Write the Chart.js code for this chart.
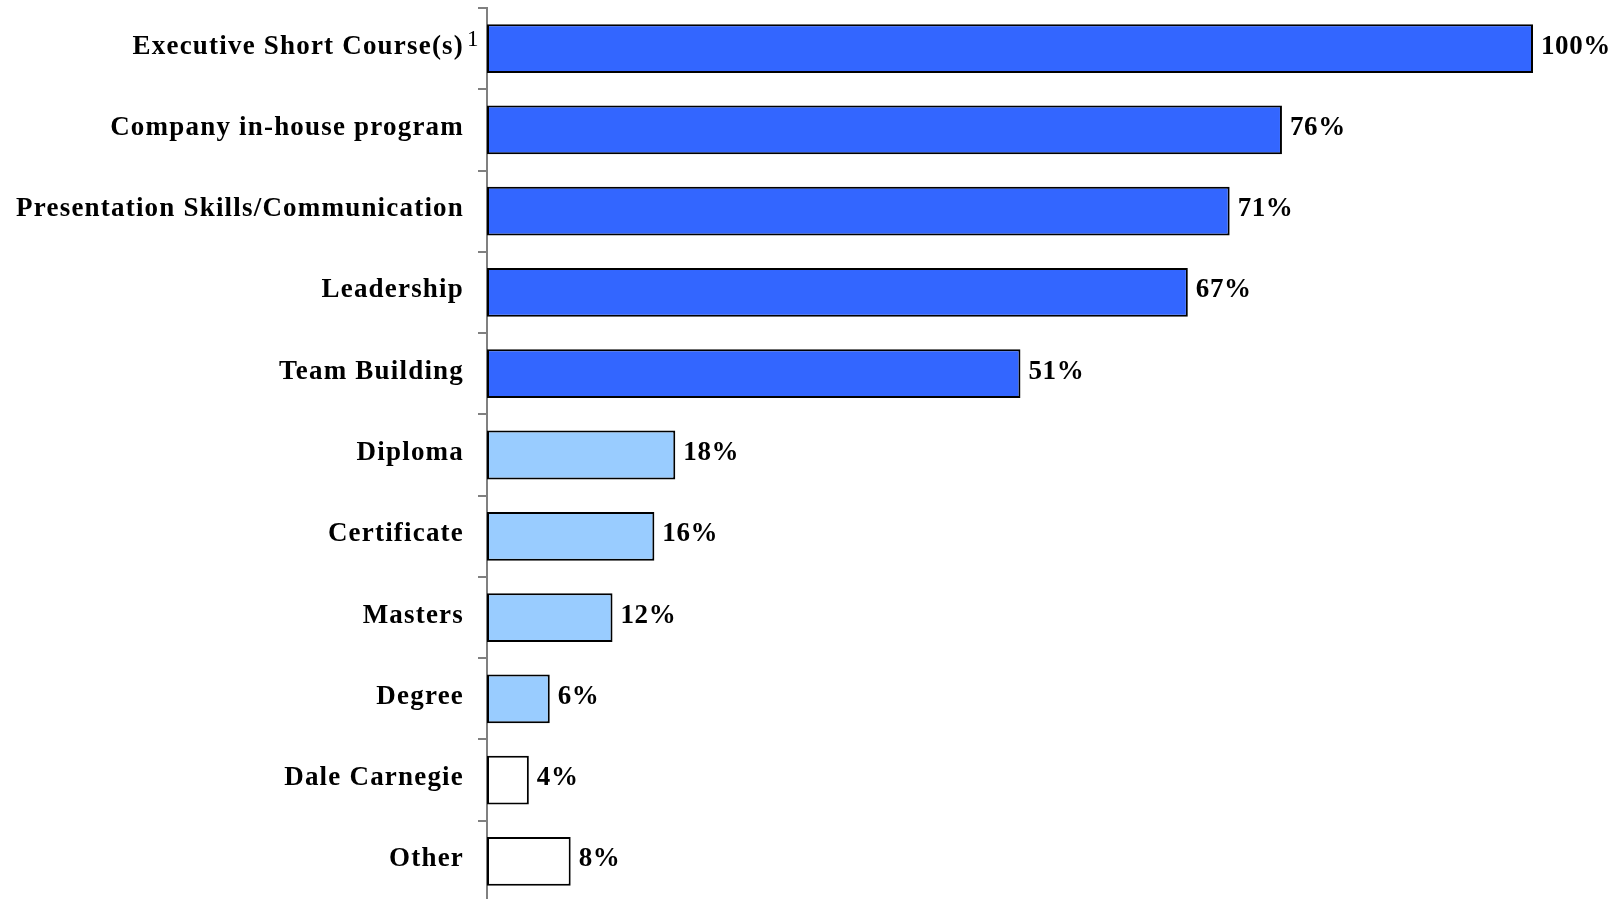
<!DOCTYPE html>
<html>
<head>
<meta charset="utf-8">
<title>Training programs attended</title>
<script src="https://cdn.jsdelivr.net/npm/chart.js@4.4.1/dist/chart.umd.min.js"></script>
<style>
  html, body { margin: 0; padding: 0; background: #ffffff; overflow: hidden; }
  #wrap { position: relative; width: 1615px; height: 902px; }
</style>
</head>
<body>
<div id="wrap"><canvas id="chart"></canvas></div>
<script>
// Program types and share of respondents (%)
const categories = [
  'Executive Short Course(s)',
  'Company in-house program',
  'Presentation Skills/Communication',
  'Leadership',
  'Team Building',
  'Diploma',
  'Certificate',
  'Masters',
  'Degree',
  'Dale Carnegie',
  'Other'
];
const shares = [100, 76, 71, 67, 51, 18, 16, 12, 6, 4, 8];
const footnoteMarks = ['1', '', '', '', '', '', '', '', '', '', ''];
const valueLabels = shares.map(v => v + '%');

// Styling
const DARK = '#3366FF', LIGHT = '#99CCFF', OPEN = '#FFFFFF';
const barFills = [DARK, DARK, DARK, DARK, DARK, LIGHT, LIGHT, LIGHT, LIGHT, OPEN, OPEN];
const LABEL_FONT = 'bold 27px "Liberation Serif", "Times New Roman", serif';
const NOTE_FONT = '23px "Liberation Serif", "Times New Roman", serif';
const AXIS_GREY = '#808080';
const AXIS_X = 487;

// Category names at the left of the axis, plus footnote marks
const categoryLabels = {
  id: 'categoryLabels',
  afterDraw(chart) {
    const ctx = chart.ctx;
    const y = chart.scales.y;
    ctx.save();
    ctx.fillStyle = '#000';
    ctx.textBaseline = 'middle';
    categories.forEach((name, i) => {
      const cy = y.getPixelForValue(i) - 2;
      ctx.font = LABEL_FONT;
      ctx.letterSpacing = '1.2px';
      ctx.textAlign = 'right';
      const right = y.right - 23;
      ctx.fillText(name, right, cy);
      if (footnoteMarks[i]) {
        ctx.font = NOTE_FONT;
        ctx.letterSpacing = '0px';
        ctx.textAlign = 'left';
        ctx.fillText(footnoteMarks[i], right + 3, cy - 7);
      }
    });
    ctx.restore();
  }
};

// Percentage labels just past each bar end
const valueTags = {
  id: 'valueTags',
  afterDatasetsDraw(chart) {
    const ctx = chart.ctx;
    const meta = chart.getDatasetMeta(0);
    ctx.save();
    ctx.font = LABEL_FONT;
    ctx.letterSpacing = '0.6px';
    ctx.fillStyle = '#000';
    ctx.textAlign = 'left';
    ctx.textBaseline = 'middle';
    meta.data.forEach((bar, i) => {
      ctx.fillText(valueLabels[i], bar.x + 8, bar.y - 2);
    });
    ctx.restore();
  }
};

new Chart(document.getElementById('chart'), {
  type: 'bar',
  data: {
    labels: categories,
    datasets: [{
      data: shares,
      backgroundColor: barFills,
      borderColor: '#000000',
      borderWidth: 2,
      borderSkipped: false,
      barPercentage: 0.6,
      categoryPercentage: 1.0
    }]
  },
  options: {
    indexAxis: 'y',
    responsive: true,
    maintainAspectRatio: false,
    animation: false,
    events: [],
    layout: { padding: { top: 8, right: 82, bottom: 0, left: 0 } },
    plugins: {
      legend: { display: false },
      tooltip: { enabled: false }
    },
    scales: {
      x: {
        min: 0,
        max: 100,
        display: false
      },
      y: {
        position: 'left',
        ticks: { display: false },
        grid: {
          offset: true,
          drawOnChartArea: false,
          drawTicks: true,
          tickLength: 9,
          color: AXIS_GREY,
          lineWidth: 2
        },
        border: { display: true, color: AXIS_GREY, width: 2 },
        afterFit(scale) { scale.width = AXIS_X; }
      }
    }
  },
  plugins: [categoryLabels, valueTags]
});
</script>
</body>
</html>
